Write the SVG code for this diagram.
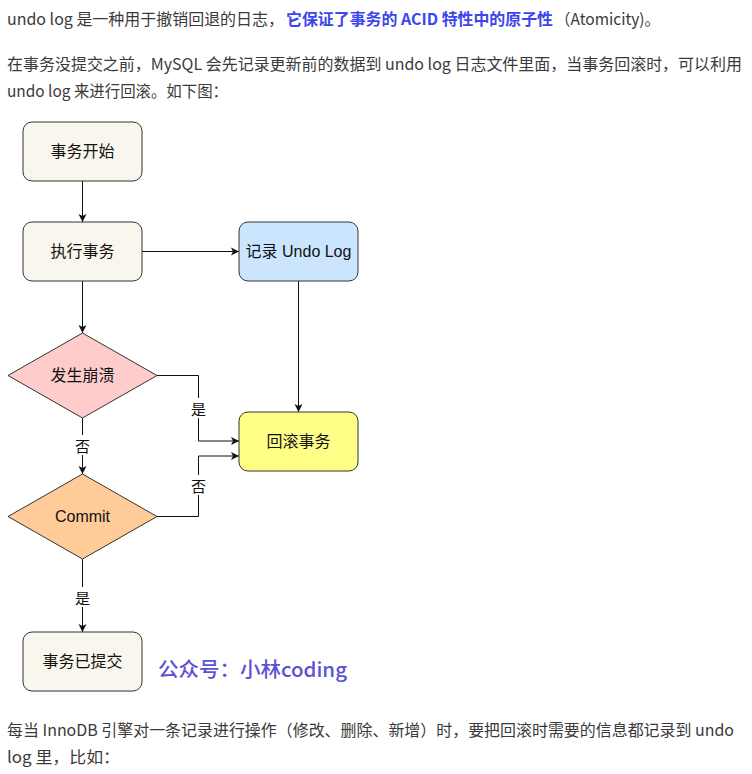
<svg xmlns="http://www.w3.org/2000/svg" width="752" height="774" viewBox="0 0 752 774">
<style>
.p{font-family:"Noto Sans CJK SC","Liberation Sans",sans-serif;font-size:16px;fill:#3a3a3a}
.b{fill:#3d45ec;font-weight:bold}
.n{font-family:"Liberation Sans","Noto Sans CJK SC",sans-serif;font-size:16px;fill:#111;text-anchor:middle;dominant-baseline:central}
.lbl{font-family:"Noto Sans CJK SC",sans-serif;font-size:15px;fill:#111;text-anchor:middle;dominant-baseline:central}
.box{stroke:#333;stroke-width:1}
.e{fill:none;stroke:#111;stroke-width:1}
.wm{font-family:"Noto Sans CJK SC","Liberation Sans",sans-serif;font-size:20px;fill:#5a52d2;font-weight:500}
</style>
<defs>
<marker id="ah" markerWidth="10" markerHeight="10" refX="9" refY="5" orient="auto" markerUnits="userSpaceOnUse">
<path d="M1,1 L9,5 L1,9 L3,5 Z" fill="#111"/>
</marker>
</defs>
<rect width="752" height="774" fill="#fff"/>
<g id="para1">
<text class="p" x="7" y="25" textLength="277" lengthAdjust="spacingAndGlyphs">undo log 是一种用于撤销回退的日志，</text>
<text class="p b" x="286" y="25" textLength="267" lengthAdjust="spacingAndGlyphs">它保证了事务的 ACID 特性中的原子性</text>
<text class="p" x="555" y="25" textLength="105" lengthAdjust="spacingAndGlyphs">（Atomicity)。</text>
<text class="p" x="7" y="70" textLength="735" lengthAdjust="spacingAndGlyphs">在事务没提交之前，MySQL 会先记录更新前的数据到 undo log 日志文件里面，当事务回滚时，可以利用</text>
<text class="p" x="7" y="97" textLength="221" lengthAdjust="spacingAndGlyphs">undo log 来进行回滚。如下图：</text>
</g>
<g id="connectors">
<line class="e" x1="82.5" y1="181" x2="82.5" y2="222" marker-end="url(#ah)"/>
<line class="e" x1="142" y1="251.5" x2="239" y2="251.5" marker-end="url(#ah)"/>
<line class="e" x1="82.5" y1="281" x2="82.5" y2="333" marker-end="url(#ah)"/>
<line class="e" x1="298.5" y1="281" x2="298.5" y2="412" marker-end="url(#ah)"/>
<polyline class="e" points="157,375.5 198.5,375.5 198.5,441 239,441" marker-end="url(#ah)"/>
<line class="e" x1="82.5" y1="418" x2="82.5" y2="474" marker-end="url(#ah)"/>
<polyline class="e" points="157,516.5 198.5,516.5 198.5,456 239,456" marker-end="url(#ah)"/>
<line class="e" x1="82.5" y1="559" x2="82.5" y2="632" marker-end="url(#ah)"/>
<rect x="190" y="398" width="17" height="20" fill="#fff"/>
<text class="lbl" x="198.5" y="408">是</text>
<rect x="74" y="435" width="17" height="20" fill="#fff"/>
<text class="lbl" x="82.5" y="445">否</text>
<rect x="190" y="475" width="17" height="20" fill="#fff"/>
<text class="lbl" x="198.5" y="485">否</text>
<rect x="74" y="587" width="17" height="20" fill="#fff"/>
<text class="lbl" x="82.5" y="597">是</text>
</g>
<g id="n-start">
<rect class="box" x="23" y="122" width="119" height="59" rx="9" fill="#f9f7ed"/>
<text class="n" x="82.5" y="151.5">事务开始</text>
</g>
<g id="n-exec">
<rect class="box" x="23" y="222" width="119" height="59" rx="9" fill="#f9f7ed"/>
<text class="n" x="82.5" y="251.5">执行事务</text>
</g>
<g id="n-undo">
<rect class="box" x="239" y="222" width="119" height="59" rx="9" fill="#cce5ff"/>
<text class="n" x="298.5" y="251.5">记录 Undo Log</text>
</g>
<g id="n-rollback">
<rect class="box" x="239" y="412" width="119" height="59" rx="9" fill="#ffff88"/>
<text class="n" x="298.5" y="441.5">回滚事务</text>
</g>
<g id="n-crash">
<polygon class="box" points="82.5,333 157,375.5 82.5,418 8,375.5" fill="#ffcccc"/>
<text class="n" x="82.5" y="375.5">发生崩溃</text>
</g>
<g id="n-commit">
<polygon class="box" points="82.5,474 157,516.5 82.5,559 8,516.5" fill="#ffcc99"/>
<text class="n" x="82.5" y="516.5">Commit</text>
</g>
<g id="n-committed">
<rect class="box" x="23" y="632" width="119" height="59" rx="9" fill="#f9f7ed"/>
<text class="n" x="82.5" y="661.5">事务已提交</text>
</g>
<text class="wm" x="158" y="677" textLength="189" lengthAdjust="spacingAndGlyphs">公众号：小林coding</text>
<g id="para2">
<text class="p" x="7" y="736" textLength="727" lengthAdjust="spacingAndGlyphs">每当 InnoDB 引擎对一条记录进行操作（修改、删除、新增）时，要把回滚时需要的信息都记录到 undo</text>
<text class="p" x="7" y="763" textLength="113" lengthAdjust="spacingAndGlyphs">log 里，比如：</text>
</g>
</svg>
